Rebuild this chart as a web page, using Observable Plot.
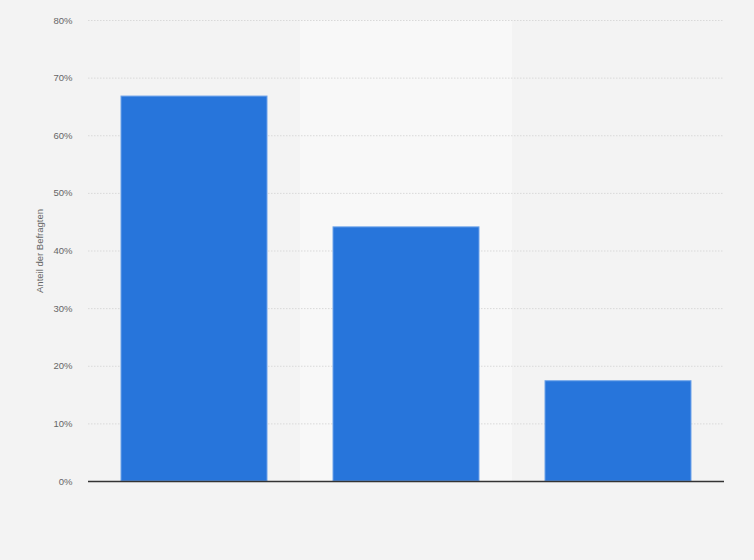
<!DOCTYPE html>
<html>
<head>
<meta charset="utf-8">
<script src="https://cdn.jsdelivr.net/npm/d3@7"></script>
<script src="https://cdn.jsdelivr.net/npm/@observablehq/plot@0.6"></script>
<style>
  html, body { margin: 0; padding: 0; background: #f3f3f3; }
  #chart svg { display: block; }
</style>
</head>
<body>
<div id="chart"></div>
<script>
const categories = ["Kategorie 1", "Kategorie 2", "Kategorie 3"];
const values = [66.8, 44.1, 17.4];
const yTicks = [0, 10, 20, 30, 40, 50, 60, 70, 80];
const yLabel = "Anteil der Befragten";

const data = categories.map((c, i) => ({category: c, value: values[i]}));

const chart = Plot.plot({
  width: 754,
  height: 560,
  marginLeft: 88,
  marginRight: 30,
  marginTop: 20,
  marginBottom: 79,
  style: {background: "#f3f3f3", fontFamily: "'Liberation Sans', Arial, sans-serif"},
  x: {domain: categories, padding: 0, axis: null},
  y: {domain: [0, 80], ticks: yTicks},
  marks: [
    Plot.barY([categories[1]], {x: d => d, y1: 0, y2: 80, fill: "#f8f8f8"}),
    Plot.ruleY(yTicks.filter(t => t > 0), {stroke: "#d9d9d9", strokeDasharray: "1.5,1.5", strokeWidth: 1}),
    Plot.barY(data, {x: "category", y: "value", fill: "#2775db", stroke: "#6ea3ea", strokeWidth: 1, insetLeft: 33, insetRight: 33}),
    Plot.ruleY([0], {stroke: "#333", strokeWidth: 1.3}),
    Plot.axisY({
      ticks: yTicks,
      tickSize: 0,
      tickPadding: 16,
      tickFormat: d => d + "%",
      fontSize: 9.5,
      fill: "#666",
      label: yLabel,
      labelAnchor: "center",
      labelArrow: "none",
      labelOffset: 52
    })
  ]
});
document.getElementById("chart").appendChild(chart);
</script>
</body>
</html>
